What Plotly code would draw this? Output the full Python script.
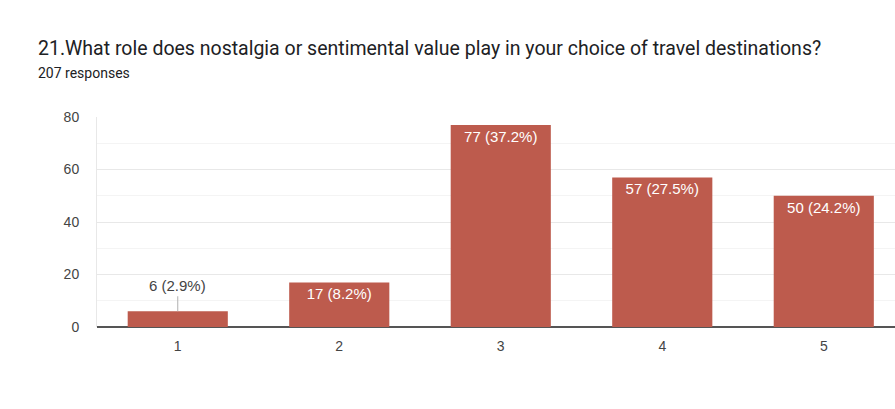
import plotly.graph_objects as go

categories = [1, 2, 3, 4, 5]
counts = [6, 17, 77, 57, 50]
total_responses = 207
title_text = "21.What role does nostalgia or sentimental value play in your choice of travel destinations?"
subtitle_text = f"{total_responses} responses"
y_ticks = [0, 20, 40, 60, 80]

labels = [f"{c} ({c / total_responses * 100:.1f}%)" for c in counts]
BAR = "#bd5b4d"
PLOT_W = 798
PLOT_H = 210

inside_text = [lab if c >= 10 else "" for lab, c in zip(labels, counts)]

fig = go.Figure()
fig.add_trace(go.Bar(
    x=categories, y=counts, marker=dict(color=BAR, line=dict(width=0)),
    text=inside_text, textposition="inside", insidetextanchor="end",
    textangle=0, insidetextfont=dict(color="white", size=15, family="Liberation Sans"),
    cliponaxis=False, hoverinfo="skip",
))

annotations = [
    dict(xref="paper", yref="paper", x=(36 - 97) / PLOT_W, y=1 + (117 - 35) / PLOT_H,
         xanchor="left", yanchor="top", text=title_text, showarrow=False,
         font=dict(size=19.5, color="#202124", family="Roboto")),
    dict(xref="paper", yref="paper", x=(36 - 97) / PLOT_W, y=1 + (117 - 63) / PLOT_H,
         xanchor="left", yanchor="top", text=subtitle_text, showarrow=False,
         font=dict(size=14, color="#202124", family="Roboto")),
]
for x, c, lab in zip(categories, counts, labels):
    if c < 10:
        annotations.append(dict(
            x=x, y=c, xref="x", yref="y", text=lab, showarrow=True,
            arrowhead=0, arrowwidth=1, arrowcolor="#b0b0b0", ax=0, ay=-15,
            standoff=0, font=dict(color="#444444", size=15, family="Liberation Sans"),
            yanchor="bottom",
        ))

fig.update_layout(
    width=895, height=409,
    margin=dict(l=97, r=0, t=117, b=82),
    paper_bgcolor="white", plot_bgcolor="white",
    showlegend=False, bargap=0.38,
    font=dict(family="Liberation Sans", color="#444444"),
    annotations=annotations,
)

fig.update_xaxes(range=[0.5, 5.441], tickvals=categories, ticktext=[str(c) for c in categories],
                 showgrid=False, showline=False, zeroline=False, ticks="",
                 ticklabelstandoff=9, tickfont=dict(size=14, color="#444444"))
fig.update_yaxes(range=[0, 80], tickvals=y_ticks, showgrid=True, gridcolor="#e8e8e8",
                 gridwidth=1, zeroline=True, zerolinecolor="#555555", zerolinewidth=1.5,
                 showline=True, linecolor="#e8e8e8", ticks="", ticklabelstandoff=14,
                 minor=dict(dtick=10, showgrid=True, gridcolor="#f4f4f4"),
                 tickfont=dict(size=14, color="#444444"))

fig.write_html("out.html")
